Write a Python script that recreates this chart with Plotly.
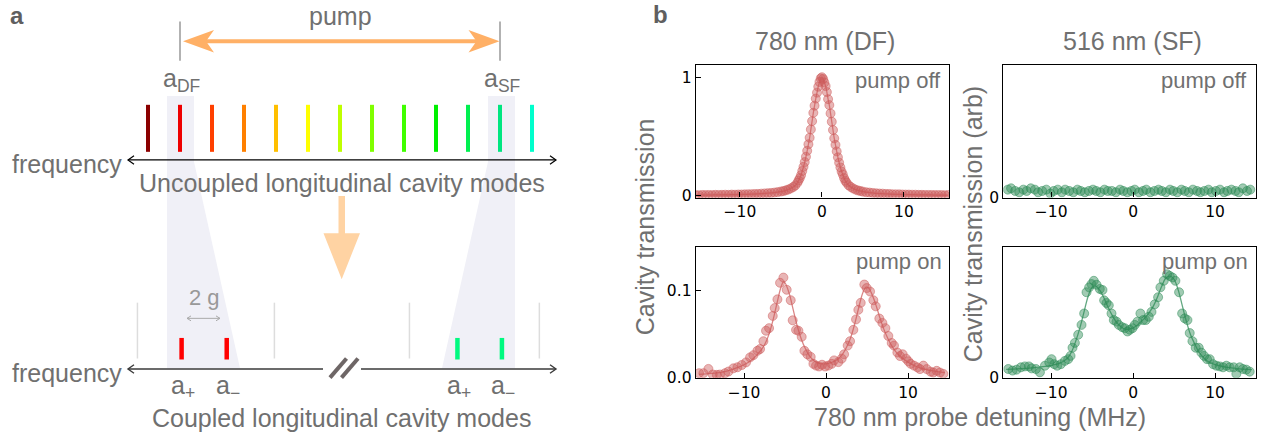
import plotly.graph_objects as go

W, H = 1267, 440

# ---------------- panel a : schematic data (mode numbers in units of the FSR) ----------------
mode_number = [0, 1, 2, 3, 4, 5, 6, 7, 8, 9, 10, 11, 12]
mode_colors = ["#8b0000", "#ee0000", "#ff4000", "#ff8000", "#ffbf00", "#ffff00", "#bfff00",
               "#80ff00", "#40ff00", "#00f000", "#00f050", "#00e680", "#00ffcc"]
df_mode, sf_mode = 1, 11
coupled_number = [1.05, 2.46, 9.67, 11.06]
coupled_colors = ["#ff0000", "#ff0000", "#00fa80", "#00fa80"]
coupled_labels = ["a<sub>+</sub>", "a<sub>\u2212</sub>", "a<sub>+</sub>", "a<sub>\u2212</sub>"]
guide_number = [-0.33, 3.95, 8.17, 12.23]

# ---------------- panel b : measured transmission ----------------
x_df_off = [-15.4, -15.0, -14.6, -14.2, -13.8, -13.4, -13.0, -12.6, -12.2, -11.8, -11.4, -11.0, -10.6, -10.2,
            -9.8, -9.4, -9.0, -8.6, -8.2, -7.8, -7.4, -7.0, -6.6, -6.2, -5.8, -5.4, -5.0,
            -4.7, -4.4, -4.1, -3.8, -3.5, -3.25,
            -3.0, -2.85, -2.7, -2.55, -2.4, -2.25, -2.1, -1.95, -1.8, -1.65, -1.5, -1.35, -1.2, -1.05,
            -0.9, -0.75, -0.6, -0.45, -0.3, -0.15, 0.0,
            0.15, 0.3, 0.45, 0.6, 0.75, 0.9, 1.05, 1.2, 1.35, 1.5, 1.65, 1.8, 1.95, 2.1, 2.25, 2.4, 2.55,
            2.7, 2.85, 3.0, 3.25, 3.5, 3.8, 4.1, 4.4, 4.7,
            5.0, 5.4, 5.8, 6.2, 6.6, 7.0, 7.4, 7.8, 8.2, 8.6, 9.0, 9.4, 9.8, 10.2, 10.6, 11.0, 11.4,
            11.8, 12.2, 12.6, 13.0, 13.4, 13.8, 14.2, 14.6, 15.0, 15.4]
y_df_off = [0.007, 0.006, 0.008, 0.007, 0.008, 0.007, 0.009, 0.008, 0.009, 0.010, 0.009, 0.011, 0.010, 0.012,
            0.012, 0.013, 0.014, 0.015, 0.016, 0.017, 0.019, 0.021, 0.023, 0.025, 0.028, 0.032, 0.037,
            0.041, 0.047, 0.054, 0.063, 0.075, 0.088,
            0.11, 0.13, 0.15, 0.175, 0.21, 0.245, 0.285, 0.33, 0.38, 0.435, 0.49, 0.56, 0.63, 0.70,
            0.76, 0.82, 0.87, 0.92, 0.96, 0.99, 1.0,
            0.985, 0.955, 0.925, 0.875, 0.815, 0.765, 0.695, 0.625, 0.555, 0.485, 0.43, 0.375, 0.325, 0.28,
            0.24, 0.205, 0.18, 0.15, 0.128, 0.112, 0.09, 0.076, 0.063, 0.053, 0.046, 0.041,
            0.036, 0.031, 0.028, 0.025, 0.022, 0.020, 0.019, 0.017, 0.016, 0.014, 0.013, 0.013, 0.012,
            0.011, 0.011, 0.010, 0.010, 0.009, 0.009, 0.008, 0.008, 0.008, 0.007, 0.007, 0.007, 0.006, 0.007]

x_sf_off = [-15.3, -14.9, -14.4, -13.9, -13.4, -13.0, -12.5, -12.0, -11.6, -11.1, -10.6, -10.1, -9.7, -9.2,
            -8.7, -8.3, -7.8, -7.3, -6.8, -6.4, -5.9, -5.4, -4.9, -4.5, -4.0, -3.5, -3.1, -2.6, -2.1, -1.6,
            -1.2, -0.7, -0.2, 0.2, 0.7, 1.2, 1.6, 2.1, 2.6, 3.1, 3.5, 4.0, 4.5, 4.9, 5.4, 5.9, 6.3, 6.8,
            7.3, 7.8, 8.2, 8.7, 9.2, 9.6, 10.1, 10.6, 11.1, 11.5, 12.0, 12.5, 12.9, 13.4, 13.9, 14.3]
y_sf_off = [0.06, 0.07, 0.05, 0.04, 0.06, 0.05, 0.07, 0.06,
            0.04, 0.05, 0.06, 0.03, 0.05, 0.06, 0.04, 0.06,
            0.05, 0.04, 0.06, 0.05, 0.04, 0.05, 0.06, 0.05,
            0.04, 0.06, 0.05, 0.05, 0.04, 0.06, 0.05, 0.04,
            0.05, 0.06, 0.04, 0.05, 0.06, 0.04, 0.05, 0.06,
            0.05, 0.04, 0.06, 0.05, 0.04, 0.06, 0.05, 0.04,
            0.06, 0.05, 0.04, 0.05, 0.06, 0.04, 0.05, 0.06,
            0.04, 0.05, 0.06, 0.05, 0.04, 0.07, 0.05, 0.06]

x_df_on = [-15.49, -14.96, -14.35, -13.82, -13.33, -12.93, -12.32, -11.91, -11.30, -10.81, -10.28, -9.76,
           -9.27, -8.86, -8.37, -8.05, -7.64, -7.32, -6.95, -6.50, -6.26, -5.93, -5.61, -5.20, -4.80, -4.31,
           -4.07, -3.66, -3.37, -2.97, -2.64, -2.28, -1.87, -1.54, -1.22, -0.85, -0.49, -0.12, 0.28, 0.69,
           0.98, 1.50, 1.91, 2.20, 2.64, 2.93, 3.33, 3.66, 3.94, 4.23, 4.67, 4.96, 5.37, 5.77, 6.06, 6.50,
           6.87, 7.24, 7.60, 8.01, 8.29, 8.70, 9.02, 9.35, 9.76, 10.04, 10.33, 10.73, 11.14, 11.46, 11.87,
           12.28, 12.76, 13.09, 13.50, 13.90, 14.31]
y_df_on = [0.0053, 0.0053, 0.0102, 0.0038, 0.0034, 0.0038, 0.0053, 0.0072, 0.0109, 0.0121, 0.0147, 0.0177,
           0.0234, 0.026, 0.031, 0.033, 0.042, 0.054, 0.057, 0.071, 0.080, 0.090, 0.109, 0.115, 0.101, 0.089,
           0.066, 0.055, 0.054, 0.047, 0.031, 0.027, 0.024, 0.016, 0.014, 0.013, 0.015, 0.013, 0.014, 0.016,
           0.020, 0.018, 0.022, 0.027, 0.037, 0.042, 0.055, 0.067, 0.078, 0.086, 0.107, 0.103, 0.099, 0.089,
           0.082, 0.068, 0.063, 0.057, 0.048, 0.040, 0.037, 0.029, 0.025, 0.027, 0.022, 0.019, 0.016, 0.014,
           0.012, 0.010, 0.014, 0.010, 0.007, 0.006, 0.008, 0.006, 0.0045]
x_df_fit = [-15.5, -14, -13, -12, -11, -10, -9, -8, -7.5, -7, -6.5, -6, -5.5, -5.2, -5, -4.5, -4, -3.5, -3,
            -2.5, -2, -1.5, -1, -0.5, 0, 0.5, 1, 1.5, 2, 2.5, 3, 3.5, 4, 4.5, 4.9, 5.2, 5.5, 6, 6.5, 7, 7.5,
            8, 8.5, 9, 10, 11, 12, 13, 14.5]
y_df_fit = [0.004, 0.005, 0.006, 0.008, 0.011, 0.015, 0.021, 0.031, 0.038, 0.049, 0.065, 0.085, 0.104, 0.110,
            0.109, 0.097, 0.078, 0.059, 0.044, 0.033, 0.025, 0.020, 0.017, 0.016, 0.016, 0.017, 0.019, 0.022,
            0.027, 0.035, 0.046, 0.062, 0.081, 0.098, 0.104, 0.103, 0.098, 0.086, 0.071, 0.057, 0.046, 0.037,
            0.030, 0.025, 0.018, 0.013, 0.010, 0.008, 0.006]

x_sf_on = [-15.24, -14.72, -14.23, -13.70, -13.21, -12.72, -12.40, -11.87, -11.38, -10.77, -10.24, -9.96,
           -9.63, -9.27, -8.82, -8.33, -7.93, -7.64, -7.40, -7.11, -6.71, -6.30, -5.98, -5.69, -5.37, -5.08,
           -4.80, -4.47, -4.07, -3.74, -3.54, -3.25, -2.97, -2.64, -2.36, -2.03, -1.75, -1.34, -1.02, -0.69,
           -0.41, -0.08, 0.20, 0.53, 0.89, 1.22, 1.54, 1.91, 2.24, 2.64, 3.05, 3.33, 3.74, 4.15, 4.47, 4.80,
           5.16, 5.61, 5.98, 6.30, 6.63, 6.91, 7.24, 7.64, 8.01, 8.33, 8.66, 9.02, 9.35, 9.76, 10.16, 10.57,
           10.98, 11.38, 11.79, 12.28, 12.60, 13.01, 13.41, 13.82, 14.23]
y_sf_on = [0.067, 0.055, 0.062, 0.080, 0.087, 0.087, 0.072, 0.067, 0.042, 0.092, 0.117, 0.142, 0.104, 0.092,
           0.104, 0.129, 0.142, 0.167, 0.229, 0.266, 0.328, 0.403, 0.490, 0.652, 0.689, 0.714, 0.739, 0.709,
           0.677, 0.669, 0.590, 0.570, 0.552, 0.490, 0.440, 0.428, 0.403, 0.386, 0.378, 0.353, 0.366, 0.378,
           0.403, 0.428, 0.490, 0.440, 0.440, 0.465, 0.502, 0.560, 0.614, 0.689, 0.739, 0.789, 0.776, 0.764,
           0.739, 0.652, 0.490, 0.453, 0.440, 0.341, 0.279, 0.229, 0.229, 0.192, 0.167, 0.142, 0.142, 0.104,
           0.092, 0.087, 0.080, 0.092, 0.080, 0.080, 0.030, 0.080, 0.067, 0.062, 0.047]
x_sf_fit = [-15.5, -13, -11, -10, -9, -8, -7.5, -7, -6.5, -6, -5.5, -5, -4.6, -4, -3.5, -3, -2.5, -2, -1.5,
            -1, -0.5, 0, 0.5, 1, 1.5, 2, 2.5, 3, 3.5, 4, 4.5, 5, 5.5, 6, 6.5, 7, 7.5, 8, 8.5, 9, 10, 11, 12,
            13, 14.5]
y_sf_fit = [0.065, 0.072, 0.085, 0.095, 0.11, 0.15, 0.20, 0.28, 0.38, 0.50, 0.62, 0.69, 0.70, 0.66, 0.60,
            0.53, 0.47, 0.42, 0.39, 0.37, 0.37, 0.38, 0.40, 0.43, 0.46, 0.50, 0.55, 0.62, 0.70, 0.76, 0.775,
            0.75, 0.67, 0.55, 0.43, 0.33, 0.26, 0.20, 0.16, 0.13, 0.10, 0.085, 0.075, 0.068, 0.062]

# ---------------- styling ----------------
GRAY = "#707070"
TXT = "Liberation Sans, Arial, sans-serif"
RED = (205, 92, 92)
GREEN = (46, 139, 87)


def rgba(c, a):
    return "rgba(%d,%d,%d,%s)" % (c[0], c[1], c[2], a)


# schematic axis: x in mode units (one unit = one FSR), y in pixel rows of the figure
FSR_PX, MODE0_PX, A_W = 32.0, 148.0, 608.0


def u(p):
    return (p - MODE0_PX) / FSR_PX


def px(m):
    return MODE0_PX + FSR_PX * m


def path(pts):
    return "M " + " L ".join("%.4f,%.2f" % (u(x), y) for x, y in pts) + " Z"


fig = go.Figure()

# ---------------- panel b traces ----------------
def add_panel(xd, yd, xf, yf, col, ax):
    if xf is not None:
        fig.add_trace(go.Scatter(x=xf, y=yf, mode="lines", line=dict(color=rgba(col, 0.75), width=1.3, shape="spline"),
                                 xaxis="x" + ax, yaxis="y" + ax, showlegend=False, hoverinfo="skip"))
    fig.add_trace(go.Scatter(x=xd, y=yd, mode="markers",
                             marker=dict(size=9, color=rgba(col, 0.45), line=dict(width=1, color=rgba(col, 0.5))),
                             xaxis="x" + ax, yaxis="y" + ax, showlegend=False))


add_panel(x_df_off, y_df_off, x_df_off, y_df_off, RED, "2")
add_panel(x_sf_off, y_sf_off, None, None, GREEN, "3")
add_panel(x_df_on, y_df_on, x_df_fit, y_df_fit, RED, "4")
add_panel(x_sf_on, y_sf_on, x_sf_fit, y_sf_fit, GREEN, "5")

# ---------------- panel a shapes ----------------
shapes = []
# shaded guides
shapes.append(dict(type="path", xref="x", yref="y", layer="below", line=dict(width=0), fillcolor="#f0f0f7",
                   path=path([(167, 98), (194, 98), (194, 165), (240, 376), (167, 376)])))
shapes.append(dict(type="path", xref="x", yref="y", layer="below", line=dict(width=0), fillcolor="#f0f0f7",
                   path=path([(488, 98), (515, 98), (515, 376), (442, 376), (488, 165)])))
# pump markers and arrow
for m in (df_mode, sf_mode):
    shapes.append(dict(type="line", xref="x", yref="y", x0=m, x1=m, y0=22, y1=62, line=dict(color="#999999", width=1.5)))
ORANGE = "#ffb066"
shapes.append(dict(type="line", xref="x", yref="y", x0=u(200), x1=u(484), y0=42, y1=42, line=dict(color=ORANGE, width=4)))
shapes.append(dict(type="path", xref="x", yref="y", line=dict(width=0), fillcolor=ORANGE,
                   path=path([(183, 42), (214, 30.5), (206, 42), (214, 53.5)])))
shapes.append(dict(type="path", xref="x", yref="y", line=dict(width=0), fillcolor=ORANGE,
                   path=path([(499.5, 42), (468.5, 30.5), (476.5, 42), (468.5, 53.5)])))
# uncoupled modes
for m, c in zip(mode_number, mode_colors):
    shapes.append(dict(type="line", xref="x", yref="y", x0=m, x1=m, y0=107, y1=155, line=dict(color=c, width=4)))
# upper frequency axis
shapes.append(dict(type="line", xref="x", yref="y", x0=u(128), x1=u(556), y0=163.3, y1=163.3, line=dict(color="black", width=1.2)))
for a, b in ((128, 134), (556, 550)):
    shapes.append(dict(type="path", xref="x", yref="y", line=dict(color="black", width=1.2),
                       path="M %.4f,159 L %.4f,163.3 L %.4f,167.6" % (u(b), u(a), u(b))))
# big down arrow
shapes.append(dict(type="path", xref="x", yref="y", line=dict(width=0), fillcolor="#ffd3a3",
                   path=path([(338.5, 200), (345, 200), (345, 238), (360, 238), (341.7, 285), (323.5, 238), (338.5, 238)])))
# lower axis with break
AX2 = "#3a3a3a"
shapes.append(dict(type="line", xref="x", yref="y", x0=u(128), x1=u(323), y0=376.7, y1=376.7, line=dict(color=AX2, width=1.6)))
shapes.append(dict(type="line", xref="x", yref="y", x0=u(361), x1=u(556), y0=376.7, y1=376.7, line=dict(color=AX2, width=1.6)))
for a, b in ((128, 134), (556, 550)):
    shapes.append(dict(type="path", xref="x", yref="y", line=dict(color=AX2, width=1.4),
                       path="M %.4f,372.4 L %.4f,376.7 L %.4f,381" % (u(b), u(a), u(b))))
for x0, x1 in ((330, 346.5), (341.5, 358)):
    shapes.append(dict(type="line", xref="x", yref="y", x0=u(x0), x1=u(x1), y0=385.5, y1=366,
                       line=dict(color="#6e6666", width=4)))
# guides of the uncoupled positions
for g in guide_number:
    shapes.append(dict(type="line", xref="x", yref="y", x0=g, x1=g, y0=309, y1=366, line=dict(color="#dddddd", width=1.5)))
# coupled modes
for m, c in zip(coupled_number, coupled_colors):
    shapes.append(dict(type="line", xref="x", yref="y", x0=m, x1=m, y0=345, y1=367, line=dict(color=c, width=4.5)))
# 2g arrow
shapes.append(dict(type="line", xref="x", yref="y", x0=u(187), x1=u(220), y0=325, y1=325, line=dict(color="#aaaaaa", width=1)))
for a, b in ((187, 191), (220, 216)):
    shapes.append(dict(type="path", xref="x", yref="y", line=dict(color="#aaaaaa", width=1),
                       path="M %.4f,322.5 L %.4f,325 L %.4f,327.5" % (u(b), u(a), u(b))))

# ---------------- annotations (all in paper coordinates) ----------------
ann = []


def pap(text, xp, yp, size=25, color=GRAY, xanchor="center", angle=0, bold=False):
    ann.append(dict(text=("<b>%s</b>" % text) if bold else text, xref="paper", yref="paper", x=xp / W, y=1 - yp / H,
                    showarrow=False, xanchor=xanchor, yanchor="middle", textangle=angle,
                    font=dict(family=TXT, size=size, color=color)))


# panel a texts
pap("pump", 340, 16)
pap("a<sub>DF</sub>", px(df_mode) + 1, 82)
pap("a<sub>SF</sub>", px(sf_mode) + 2, 82)
pap("frequency", 10, 167, xanchor="left")
pap("Uncoupled longitudinal cavity modes", 341.5, 187)
pap("2 g", 204, 304, size=22, color="#999999")
for m, t in zip(coupled_number, coupled_labels):
    pap(t, px(m) + 1.3, 395)
pap("frequency", 10, 381, xanchor="left")
pap("Coupled longitudinal cavity modes", 341.5, 427)

# panel labels and panel b texts
pap("a", 8, 16, size=24, color="#5f5f5f", xanchor="left", bold=True)
pap("b", 651, 15, size=24, color="#5f5f5f", xanchor="left", bold=True)
pap("780 nm (DF)", 825, 42)
pap("516 nm (SF)", 1132, 42)
pap("pump off", 943, 82, size=22, xanchor="right")
pap("pump off", 1249, 82, size=22, xanchor="right")
pap("pump on", 944, 267, size=22, xanchor="right")
pap("pump on", 1250, 267, size=22, xanchor="right")
pap("Cavity transmission", 645, 231, angle=-90)
pap("Cavity transmission (arb)", 973, 229, angle=-90)
pap("780 nm probe detuning (MHz)", 980, 426)

# ---------------- axes ----------------
def box(**kw):
    d = dict(showline=True, linecolor="black", linewidth=1.2, mirror=True, ticks="inside", ticklen=5,
             tickwidth=1.2, tickcolor="black", showgrid=False, zeroline=False,
             tickfont=dict(family="DejaVu Sans, sans-serif", size=15.5, color="black"))
    d.update(kw)
    return d


def dx(a, b):
    return [a / W, b / W]


def dy(top, bottom):
    return [1 - bottom / H, 1 - top / H]


XT = dict(tickvals=[-10, 0, 10], ticktext=["\u221210", "0", "10"])

fig.update_layout(
    width=W, height=H, margin=dict(l=0, r=0, t=0, b=0),
    paper_bgcolor="white", plot_bgcolor="white", showlegend=False,
    xaxis=dict(domain=[0, A_W / W], range=[u(0), u(A_W)], visible=False, fixedrange=True),
    yaxis=dict(domain=[0, 1], range=[H, 0], visible=False, fixedrange=True),
    xaxis2=box(domain=dx(695.7, 949), range=[-15.4, 15.5], anchor="y2", **XT),
    yaxis2=box(domain=dy(66.7, 201.7), range=[-0.014, 1.10], anchor="x2", tickvals=[0, 1], ticktext=["0", "1"]),
    xaxis3=box(domain=dx(1003.3, 1256), range=[-15.85, 15.0], anchor="y3", **XT),
    yaxis3=box(domain=dy(66.7, 201.7), range=[0, 1], anchor="x3", tickvals=[0], ticktext=["0"]),
    xaxis4=box(domain=dx(695.7, 949), range=[-15.9, 15.0], anchor="y4", **XT),
    yaxis4=box(domain=dy(251.7, 385.7), range=[0, 0.1506], anchor="x4", tickvals=[0, 0.1], ticktext=["0.0", "0.1"]),
    xaxis5=box(domain=dx(1003.3, 1256), range=[-15.85, 15.0], anchor="y5", **XT),
    yaxis5=box(domain=dy(251.7, 385.7), range=[0, 1], anchor="x5", tickvals=[0], ticktext=["0"]),
    shapes=shapes, annotations=ann,
)

fig.write_html("out.html")
